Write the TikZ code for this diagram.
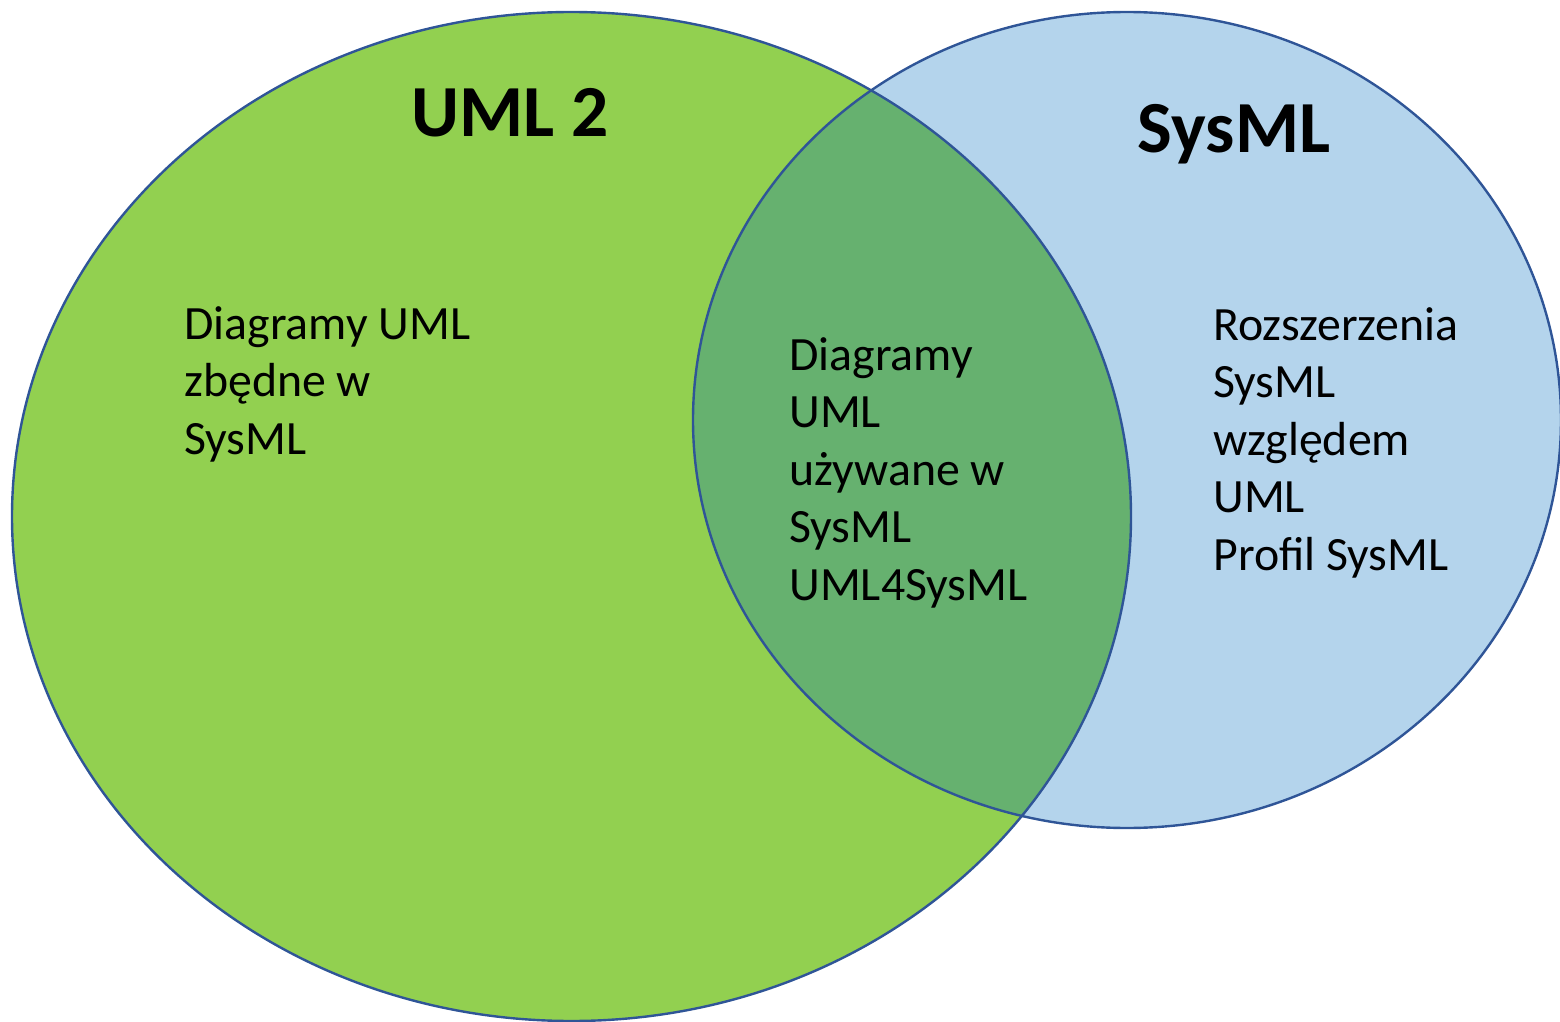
\documentclass[tikz,border=0pt]{standalone}
\usepackage{fontspec}
\setmainfont{Carlito}
\definecolor{umlgreen}{HTML}{92D050}
\definecolor{sysblue}{HTML}{B4D4EC}
\definecolor{overlapgreen}{HTML}{66B16F}
\definecolor{edgeblue}{HTML}{2F5597}
\begin{document}
\begin{tikzpicture}[x=0.5pt,y=-0.5pt,
  outline/.style={draw=edgeblue,line width=1.2pt},
  title/.style={font=\fontsize{36.7}{44}\selectfont\bfseries,inner sep=0pt},
  body/.style={font=\fontsize{23.9}{28.75}\selectfont,align=left,inner sep=0pt,anchor=base west}]
\useasboundingbox (0,0) rectangle (1560,1022);
% the two sets
\fill[umlgreen] (571.5,516.5) ellipse [x radius=559.5,y radius=504.5];
\fill[sysblue] (1127,420) ellipse [x radius=434,y radius=408];
% their common part
\begin{scope}
  \clip (571.5,516.5) ellipse [x radius=559.5,y radius=504.5];
  \fill[overlapgreen] (1127,420) ellipse [x radius=434,y radius=408];
\end{scope}
\draw[outline] (571.5,516.5) ellipse [x radius=559.5,y radius=504.5];
\draw[outline] (1127,420) ellipse [x radius=434,y radius=408];
% labels (a multi-line node sits on the baseline of its last line)
\node[title,anchor=base] (uml) at (510,137) {UML 2};
\node[title,anchor=base] (sysml) at (1234,153) {SysML};
\node[body] (left) at (184,454) {Diagramy UML\\zbędne w\\SysML};
\node[body] (mid) at (789,600) {Diagramy\\UML\\używane w\\SysML\\UML4SysML};
\node[body] (right) at (1213,570) {Rozszerzenia\\SysML\\względem\\UML\\Profil SysML};
\end{tikzpicture}
\end{document}
